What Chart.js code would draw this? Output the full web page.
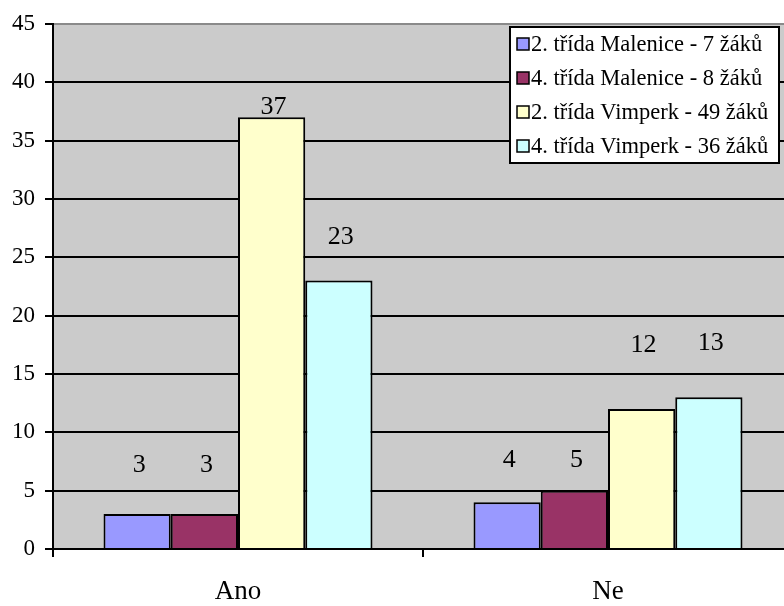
<!DOCTYPE html>
<html>
<head>
<meta charset="utf-8">
<script src="https://cdn.jsdelivr.net/npm/chart.js@4/dist/chart.umd.min.js"></script>
<style>
  html, body { margin: 0; padding: 0; background: #fff; overflow: hidden; }
  #wrap { width: 794px; height: 606px; }
</style>
</head>
<body>
<div id="wrap"><canvas id="graf"></canvas></div>
<script>
// data
const categories = ['Ano', 'Ne'];
const seriesNames = [
  '2. třída Malenice - 7 žáků',
  '4. třída Malenice - 8 žáků',
  '2. třída Vimperk - 49 žáků',
  '4. třída Vimperk - 36 žáků'
];
const malenice2 = [3, 4];
const malenice4 = [3, 5];
const vimperk2 = [37, 12];
const vimperk4 = [23, 13];
const yTicks = [0, 5, 10, 15, 20, 25, 30, 35, 40, 45];

const barColors = ['#9999FF', '#993366', '#FFFFCC', '#CCFFFF'];
// how far above the bar top the value label sits (px), as placed in the original
const labelGap = [[49, 42], [49, 30], [10, 64], [43, 54]];

const serif = "'Liberation Serif', 'Times New Roman', serif";

// gray plot area
const plotBg = {
  id: 'plotBg',
  beforeDraw(chart) {
    const { ctx, chartArea: a } = chart;
    ctx.save();
    ctx.fillStyle = '#CBCBCB';
    ctx.fillRect(a.left, a.top, a.right - a.left, a.bottom - a.top);
    ctx.restore();
  }
};

// value labels above bars
const valueLabels = {
  id: 'valueLabels',
  afterDatasetsDraw(chart) {
    const ctx = chart.ctx;
    ctx.save();
    ctx.font = '26px ' + serif;
    ctx.fillStyle = '#000';
    ctx.textAlign = 'center';
    ctx.textBaseline = 'middle';
    chart.data.datasets.forEach((ds, i) => {
      chart.getDatasetMeta(i).data.forEach((bar, j) => {
        ctx.fillText(String(ds.data[j]), bar.x + 2, bar.y - labelGap[i][j]);
      });
    });
    ctx.restore();
  }
};

// boxed legend in the top right corner
const boxLegend = {
  id: 'boxLegend',
  afterDraw(chart) {
    const ctx = chart.ctx;
    const left = 510, top = 27, w = 269, h = 136;
    ctx.save();
    ctx.fillStyle = '#fff';
    ctx.fillRect(left, top, w, h);
    ctx.strokeStyle = '#000';
    ctx.lineWidth = 2;
    ctx.strokeRect(left, top, w, h);
    ctx.font = '22.5px ' + serif;
    ctx.textBaseline = 'middle';
    chart.data.datasets.forEach((ds, i) => {
      const y = top + 17 + i * 34;
      ctx.fillStyle = ds.backgroundColor;
      ctx.fillRect(left + 7, y - 6, 12, 12);
      ctx.lineWidth = 1.5;
      ctx.strokeRect(left + 7, y - 6, 12, 12);
      ctx.fillStyle = '#000';
      ctx.fillText(ds.label, left + 21, y + 1);
    });
    ctx.restore();
  }
};

const seriesValues = [malenice2, malenice4, vimperk2, vimperk4];

new Chart(document.getElementById('graf'), {
  type: 'bar',
  data: {
    labels: categories,
    datasets: seriesValues.map((vals, i) => ({
      label: seriesNames[i],
      data: vals,
      backgroundColor: barColors[i],
      borderColor: '#000',
      borderWidth: 2,
      borderSkipped: 'bottom',
      barPercentage: 1,
      categoryPercentage: 0.727
    }))
  },
  options: {
    responsive: true,
    maintainAspectRatio: false,
    animation: false,
    layout: { padding: { top: 22, right: 1, left: 0, bottom: 0 } },
    plugins: {
      legend: { display: false },
      tooltip: { enabled: false }
    },
    scales: {
      x: {
        offset: true,
        grid: {
          offset: true,
          drawOnChartArea: false,
          drawTicks: true,
          tickLength: 8,
          color: '#000',
          lineWidth: 2
        },
        border: { color: '#000', width: 2 },
        ticks: {
          color: '#000',
          font: { family: serif, size: 27 },
          padding: 19
        },
        afterFit(s) { s.height = 57; }
      },
      y: {
        min: 0,
        max: 45,
        afterBuildTicks(s) { s.ticks = yTicks.map(v => ({ value: v })); },
        grid: {
          color: ctx => (ctx.tick && ctx.tick.value === 45 ? '#8A8A8A' : '#000'),
          lineWidth: 2,
          tickLength: 8,
          tickColor: '#000'
        },
        border: { color: '#000', width: 2 },
        ticks: {
          color: '#000',
          font: { family: serif, size: 23 },
          padding: 10
        },
        afterFit(s) { s.width = 53; }
      }
    }
  },
  plugins: [plotBg, valueLabels, boxLegend]
});
</script>
</body>
</html>
